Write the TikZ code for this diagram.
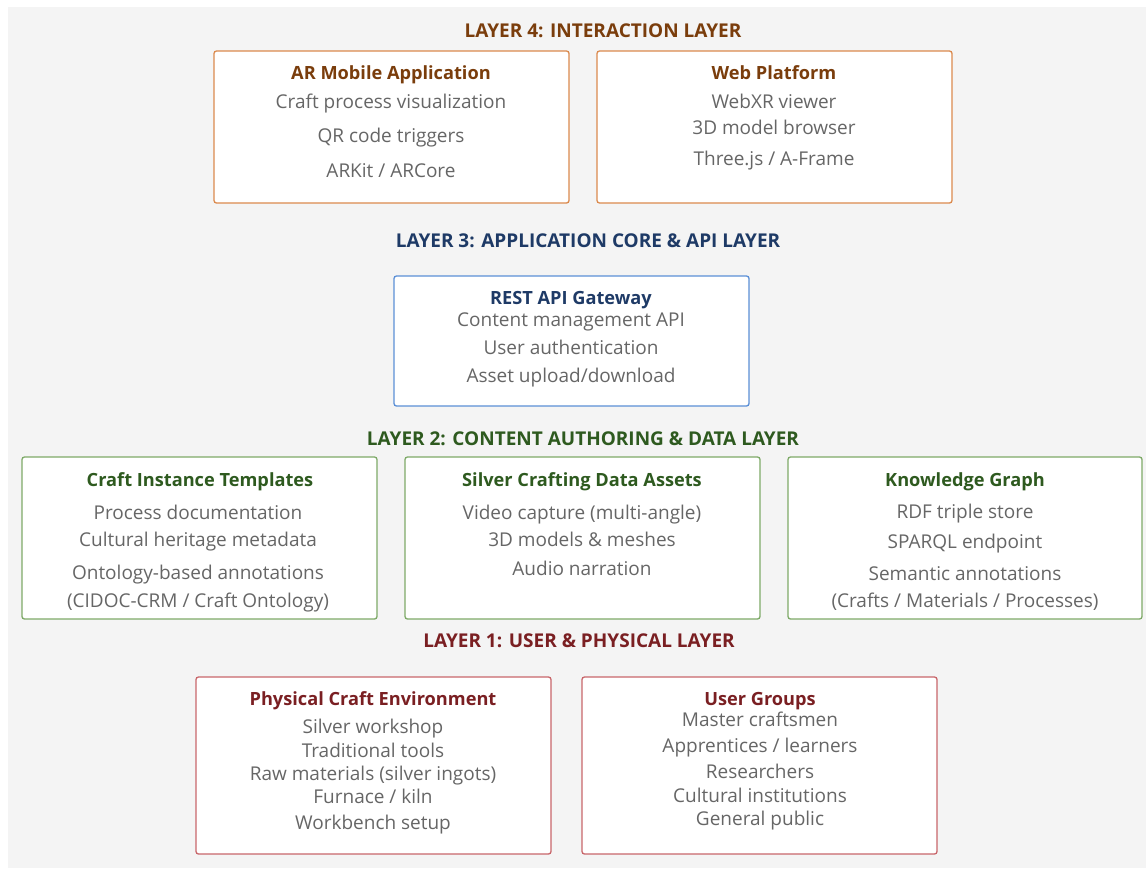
\documentclass[tikz,border=0pt]{standalone}
\usepackage{fontspec}
\setmainfont{Open Sans}
\usepackage{xcolor}
\usetikzlibrary{positioning}
\definecolor{bgG}{HTML}{F4F4F4}
\definecolor{txtG}{HTML}{666666}
\definecolor{intO}{HTML}{7A3D0C}
\definecolor{intB}{HTML}{DB8A4E}
\definecolor{appN}{HTML}{1E3A66}
\definecolor{appB}{HTML}{5B8FD6}
\definecolor{datG}{HTML}{2E5A1F}
\definecolor{datB}{HTML}{7EAA68}
\definecolor{usrR}{HTML}{7A1F22}
\definecolor{usrB}{HTML}{C8666A}
\tikzset{
  layerlab/.style={font=\fontsize{19}{22}\selectfont\bfseries, text height=13.5pt, text depth=0pt},
  boxtitle/.style={font=\fontsize{18.2}{21}\selectfont\bfseries, text height=13pt, text depth=0pt},
  boxline/.style={txtG,font=\fontsize{19}{22}\selectfont, text height=13.5pt, text depth=0pt},
  panel/.style={draw=#1, line width=1.3pt, fill=white, rounded corners=2.5pt}
}
\begin{document}
\begin{tikzpicture}[x=1pt,y=-1pt]
  \useasboundingbox (0,0) rectangle (1146,868);
  \fill[bgG] (8,7) rectangle (1146,868);
  % layer 4
  \node[layerlab,intO] (l4) at (603,31) {LAYER 4: INTERACTION LAYER};
  \draw[panel=intB] (214,51) rectangle (569,203) node[pos=0.5] (arapp) {};
  \draw[panel=intB] (597,51) rectangle (952,203) node[pos=0.5] (web) {};
  \node[boxtitle,intO] (arT) at (391,73) {AR Mobile Application};
  \foreach \y/\t in {102/{Craft process visualization},136/{QR code triggers},171/{ARKit / ARCore}}{
    \node[boxline] at (391,\y) {\t};
  }
  \node[boxtitle,intO] (webT) at (774,73) {Web Platform};
  \foreach \y/\t in {102/{WebXR viewer},128/{3D model browser},159/{Three.js / A-Frame}}{
    \node[boxline] at (774,\y) {\t};
  }
  % layer 3
  \node[layerlab,appN] (l3) at (588,241) {LAYER 3: APPLICATION CORE \& API LAYER};
  \draw[panel=appB] (394,276) rectangle (749,406) node[pos=0.5] (api) {};
  \node[boxtitle,appN] (apiT) at (571,298) {REST API Gateway};
  \foreach \y/\t in {320/{Content management API},348/{User authentication},376/{Asset upload/download}}{
    \node[boxline] at (571,\y) {\t};
  }
  % layer 2
  \node[layerlab,datG] (l2) at (583,439) {LAYER 2: CONTENT AUTHORING \& DATA LAYER};
  \draw[panel=datB] (22,457) rectangle (377,619) node[pos=0.5] (tmpl) {};
  \draw[panel=datB] (405,457) rectangle (760,619) node[pos=0.5] (assets) {};
  \draw[panel=datB] (788,457) rectangle (1142,619) node[pos=0.5] (kg) {};
  \node[boxtitle,datG] (tmplT) at (200,480) {Craft Instance Templates};
  \foreach \y/\t in {513/{Process documentation},540/{Cultural heritage metadata},573/{Ontology-based annotations},601/{(CIDOC-CRM / Craft Ontology)}}{
    \node[boxline] at (198,\y) {\t};
  }
  \node[boxtitle,datG] (assetsT) at (582,480) {Silver Crafting Data Assets};
  \foreach \y/\t in {513/{Video capture (multi-angle)},540/{3D models \& meshes},569/{Audio narration}}{
    \node[boxline] at (582,\y) {\t};
  }
  \node[boxtitle,datG] (kgT) at (965,480) {Knowledge Graph};
  \foreach \y/\t in {512/{RDF triple store},542/{SPARQL endpoint},574/{Semantic annotations},601/{(Crafts / Materials / Processes)}}{
    \node[boxline] at (965,\y) {\t};
  }
  % layer 1
  \node[layerlab,usrR] (l1) at (579,641) {LAYER 1: USER \& PHYSICAL LAYER};
  \draw[panel=usrB] (196,677) rectangle (551,854) node[pos=0.5] (phys) {};
  \draw[panel=usrB] (582,677) rectangle (937,854) node[pos=0.5] (users) {};
  \node[boxtitle,usrR] (physT) at (373,699) {Physical Craft Environment};
  \foreach \y/\t in {727/{Silver workshop},751/{Traditional tools},774/{Raw materials (silver ingots)},797/{Furnace / kiln},823/{Workbench setup}}{
    \node[boxline] at (373,\y) {\t};
  }
  \node[boxtitle,usrR] (usersT) at (760,699) {User Groups};
  \foreach \y/\t in {720/{Master craftsmen},746/{Apprentices / learners},772/{Researchers},796/{Cultural institutions},819/{General public}}{
    \node[boxline] at (760,\y) {\t};
  }
\end{tikzpicture}
\end{document}
